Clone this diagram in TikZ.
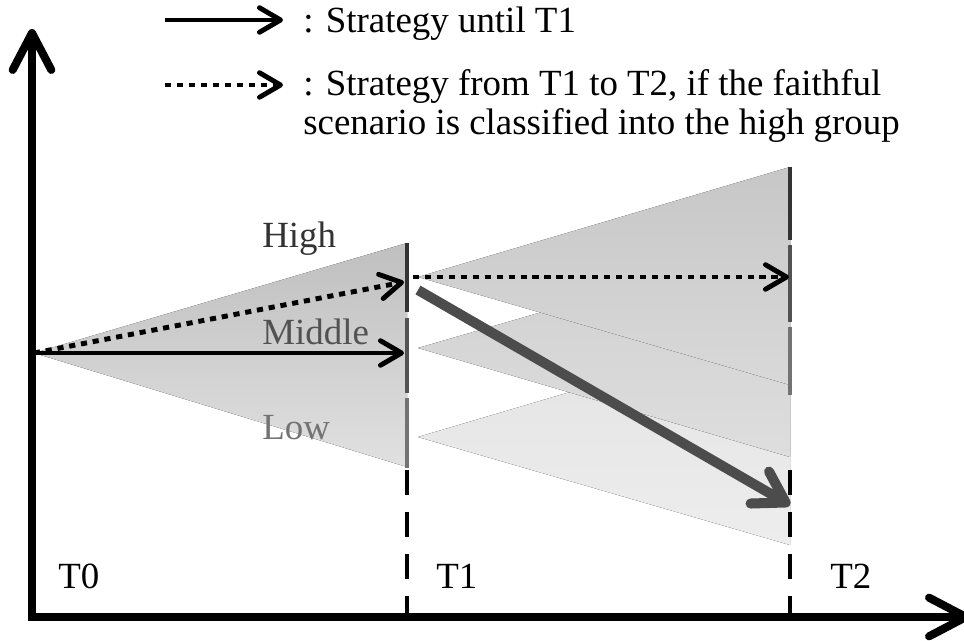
\documentclass[tikz,border=0pt]{standalone}
\usepackage{fontspec}
\setmainfont{Liberation Serif}
\usetikzlibrary{arrows.meta}

\begin{document}
\begin{tikzpicture}[
  x=0.02cm, y=-0.02cm,
  axis/.style={line width=4.6pt,
               {Straight Barb[length=21pt, width=22pt, line width=4.6pt, round]}-{Straight Barb[length=21pt, width=22pt, line width=4.6pt, round]}},
  strat/.style={line width=2.8pt, -{Straight Barb[length=12pt, width=14pt, line width=2.8pt, round]}},
  stratdot/.style={strat, dash pattern=on 3.5pt off 3.3pt},
  switcharr/.style={line width=5.7pt, color=black!70,
                    -{Straight Barb[length=17pt, width=21pt, line width=5.7pt, round]}},
  seg/.style={line width=2.3pt, draw=#1},
  tline/.style={line width=2.8pt, dash pattern=on 14pt off 10pt},
  fan/.style 2 args={top color=#1, bottom color=#2, draw=none},
  grp/.style={font=\fontsize{21}{23}\selectfont, text=#1, anchor=base west, inner sep=0pt},
  lgd/.style={font=\fontsize{21}{22.7}\selectfont, anchor=base west, inner sep=0pt, align=left},
]
\useasboundingbox (0,0) rectangle (964,641);

% ===== KEY POINTS =====
\coordinate (o) at (32,617);
\coordinate (ytip) at (32,29);
\coordinate (xtip) at (970,617);
\coordinate (s0) at (34,353);
\coordinate (t1mid) at (404,353);
\coordinate (t1high) at (404,282);
\coordinate (s1high) at (413,277);
\coordinate (t2high) at (789,277);
\coordinate (s1drop) at (418,290);
\coordinate (t2low) at (790,505);

% ===== FANS (T1 to T2, low first) =====
\fill[fan={black!11}{black!7}] (418,437) -- (790,327) -- (790,545) -- cycle;
\fill[fan={black!19}{black!13}] (418,348) -- (790,240) -- (790,457) -- cycle;
\fill[fan={black!22}{black!15}] (418,277) -- (790,167) -- (790,385) -- cycle;

% ===== FAN (T0 to T1) =====
\fill[fan={black!25}{black!12}] (s0) -- (407,243) -- (407,467) -- cycle;

% ===== GROUP BARS AT T1 AND T2 =====
\draw[seg=black!80] (407,243) -- (407,312);
\draw[seg=black!68] (407,318) -- (407,393);
\draw[seg=black!55] (407,398) -- (407,468);
\draw[seg=black!80] (790,167) -- (790,240);
\draw[seg=black!68] (790,245) -- (790,322);
\draw[seg=black!55] (790,327) -- (790,395);

% time markers
\draw[tline] (407,470) -- (407,617);
\draw[tline] (790,470) -- (790,617);

% ===== STRATEGY ARROWS =====
\draw[strat] (s0) -- (t1mid);
\draw[stratdot] (s0) -- (t1high);
\draw[stratdot] (s1high) -- (t2high);
\draw[switcharr] (s1drop) -- (t2low);

% ===== AXES =====
\draw[axis] (ytip) -- (o) -- (xtip);

% ===== LABELS =====
\node[grp=black!80] (lhigh) at (262,248) {High};
\node[grp=black!68] (lmid) at (262,345) {Middle};
\node[grp=black!55] (llow) at (262,440) {Low};
\node[grp=black] (lt0) at (58,589) {T0};
\node[grp=black] (lt1) at (436,589) {T1};
\node[grp=black] (lt2) at (830,589) {T2};

% ===== LEGEND =====
\coordinate (lga) at (165,20);
\coordinate (lgb) at (283,20);
\coordinate (lgc) at (165,85);
\coordinate (lgd) at (283,85);
\draw[strat] (lga) -- (lgb);
\draw[stratdot] (lgc) -- (lgd);
\node[lgd] (lg1) at (303,33) {: Strategy until T1};
\node[lgd] (lg2) at (303,135) {: Strategy from T1 to T2, if the faithful\\scenario is classified into the high group};

\end{tikzpicture}
\end{document}
